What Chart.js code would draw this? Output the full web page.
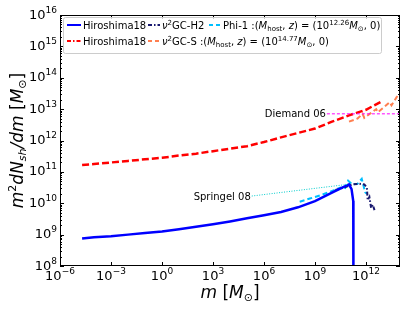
<!DOCTYPE html>
<html lang="en">
<head>
  <meta charset="UTF-8">
  <title>Subhalo mass function</title>
  <script src="https://cdn.jsdelivr.net/npm/chart.js"></script>
  <style>
    html, body { margin: 0; padding: 0; background: #fff; }
    #wrap { width: 409px; height: 309px; position: relative; }
  </style>
</head>
<body>
  <div id="wrap"><canvas id="c"></canvas></div>

  <script>
    // all values are log10
    const hiroBlueM = [-4.7, -4, -3, -2, -1, 0, 1, 2, 3, 4, 5, 6, 7, 8, 9, 10, 10.6, 11.0, 11.15, 11.25, 11.26];
    const hiroBlueY = [8.88, 8.92, 8.95, 9.0, 9.05, 9.1, 9.17, 9.25, 9.33, 9.42, 9.52, 9.62, 9.72, 9.87, 10.07, 10.34, 10.5, 10.6, 10.45, 10.07, 7];

    const hiroRedM = [-4.7, -4, -3, -2, -1, 0, 1, 2, 3, 4, 5, 6, 7, 8, 9, 10, 11, 12, 13];
    const hiroRedY = [11.22, 11.25, 11.3, 11.35, 11.4, 11.45, 11.52, 11.58, 11.66, 11.74, 11.82, 11.95, 12.1, 12.24, 12.38, 12.6, 12.8, 12.98, 13.27];

    const gcH2M = [10.2, 10.7, 11.2, 11.6, 11.9, 12.05, 12.1, 12.2, 12.3, 12.4, 12.5];
    const gcH2Y = [10.42, 10.5, 10.6, 10.62, 10.6, 10.5, 10.1, 10.2, 9.85, 9.95, 9.78];

    const gcSM = [11.0, 11.5, 11.8, 11.9, 12.3, 12.6, 12.7, 13.1, 13.4, 13.5, 13.8, 14.0];
    const gcSY = [12.6, 12.7, 12.85, 12.72, 12.88, 13.0, 12.9, 13.08, 13.22, 13.12, 13.38, 13.5];

    const phiM = [8.1, 8.7, 9.3, 9.9, 10.5, 10.75, 10.95, 11.2, 11.5, 11.75, 11.95, 12.05];
    const phiY = [10.05, 10.15, 10.25, 10.37, 10.5, 10.45, 10.72, 10.6, 10.62, 10.78, 10.35, 10.3];

    const springelM = [5.28, 10.9];
    const springelY = [10.23, 10.6];

    const diemandM = [9.7, 14];
    const diemandY = [12.85, 12.85];

    const xTickExp = [-6, -3, 0, 3, 6, 9, 12];
    const yTickExp = [8, 9, 10, 11, 12, 13, 14, 15, 16];

    const toPts = (lm, ly) => lm.map((v, i) => ({ x: Math.pow(10, v), y: Math.pow(10, ly[i]) }));

    const FONT = '"DejaVu Sans"';
    function fnt(p, base) {
      return (p.it ? 'italic ' : '') + (p.sz || base) + 'px ' + FONT;
    }
    // draws a run of text pieces (for super/subscripts)
    function rich(ctx, parts, x, y, align, base) {
      let w = 0;
      parts.forEach(p => { ctx.font = fnt(p, base); w += ctx.measureText(p.t).width; });
      let cx = align === 'right' ? x - w : align === 'center' ? x - w / 2 : x;
      ctx.textAlign = 'left';
      ctx.textBaseline = 'alphabetic';
      parts.forEach(p => {
        ctx.font = fnt(p, base);
        ctx.fillText(p.t, cx, y + (p.dy || 0));
        cx += ctx.measureText(p.t).width;
      });
      return w;
    }
    const minus = e => (e < 0 ? '\u2212' + (-e) : String(e));

    function sample(ctx, x0, x1, y, color, width, dash) {
      ctx.save();
      ctx.strokeStyle = color;
      ctx.lineWidth = width;
      ctx.setLineDash(dash);
      ctx.beginPath();
      ctx.moveTo(x0, y);
      ctx.lineTo(x1, y);
      ctx.stroke();
      ctx.restore();
    }

    const decor = {
      id: 'decor',
      afterDatasetsDraw(chart) {
        const { ctx, chartArea: a, scales: { x, y } } = chart;
        ctx.save();
        ctx.fillStyle = '#000';

        // annotation labels
        rich(ctx, [{ t: 'Diemand 06' }], x.getPixelForValue(Math.pow(10, diemandM[0])) - 1,
          y.getPixelForValue(Math.pow(10, diemandY[0])) + 3.5, 'right', 10);
        rich(ctx, [{ t: 'Springel 08' }], x.getPixelForValue(Math.pow(10, springelM[0])) - 1,
          y.getPixelForValue(Math.pow(10, springelY[0])) + 3.5, 'right', 10);

        // frame
        ctx.strokeStyle = '#000';
        ctx.lineWidth = 1;
        ctx.strokeRect(a.left + 0.5, a.top + 0.5, a.right - a.left - 1, a.bottom - a.top - 1);

        // y ticks
        ctx.beginPath();
        yTickExp.forEach(e => {
          const py = Math.round(y.getPixelForValue(Math.pow(10, e))) + 0.5;
          ctx.moveTo(a.left, py); ctx.lineTo(a.left + 4, py);
          ctx.moveTo(a.right, py); ctx.lineTo(a.right - 4, py);
          if (e < 16) {
            for (let k = 2; k < 10; k++) {
              const pm = Math.round(y.getPixelForValue(k * Math.pow(10, e))) + 0.5;
              ctx.moveTo(a.left, pm); ctx.lineTo(a.left + 2, pm);
              ctx.moveTo(a.right, pm); ctx.lineTo(a.right - 2, pm);
            }
          }
        });
        // x ticks
        xTickExp.forEach(e => {
          const px = Math.round(x.getPixelForValue(Math.pow(10, e))) + 0.5;
          ctx.moveTo(px, a.bottom); ctx.lineTo(px, a.bottom - 4);
          ctx.moveTo(px, a.top); ctx.lineTo(px, a.top + 4);
        });
        ctx.stroke();

        // tick labels
        yTickExp.forEach(e => {
          const py = y.getPixelForValue(Math.pow(10, e));
          rich(ctx, [{ t: '10' }, { t: minus(e), sz: 9, dy: -6 }], a.left - 3, py + 3.5, 'right', 13);
        });
        xTickExp.forEach(e => {
          const px = x.getPixelForValue(Math.pow(10, e));
          rich(ctx, [{ t: '10' }, { t: minus(e), sz: 9, dy: -6 }], px, a.bottom + 14, 'center', 13);
        });

        // axis titles
        rich(ctx, [{ t: 'm', it: 1 }, { t: ' [' }, { t: 'M', it: 1 }, { t: '\u2299', sz: 11, dy: 3 }, { t: ']' }],
          (a.left + a.right) / 2, 298, 'center', 17);
        ctx.save();
        ctx.translate(23, (a.top + a.bottom) / 2);
        ctx.rotate(-Math.PI / 2);
        rich(ctx, [{ t: 'm', it: 1 }, { t: '2', sz: 11, dy: -7 }, { t: 'dN', it: 1 }, { t: 'sh', it: 1, sz: 11, dy: 3 },
          { t: '/dm', it: 1 }, { t: ' [' }, { t: 'M', it: 1 }, { t: '\u2299', sz: 11, dy: 3 }, { t: ']' }],
          0, 0, 'center', 17);
        ctx.restore();

        // legend
        ctx.save();
        ctx.fillStyle = 'rgba(255,255,255,0.8)';
        ctx.strokeStyle = '#ccc';
        ctx.beginPath();
        ctx.roundRect(63.5, 17.5, 318, 36, 2);
        ctx.fill();
        ctx.stroke();
        ctx.restore();

        const r1 = 25, r2 = 41;
        sample(ctx, 67, 81, r1, '#0000ff', 2, []);
        sample(ctx, 67, 81, r2, '#ff0000', 2, [4, 2, 1.5, 2]);
        sample(ctx, 148, 160, r1, '#191970', 2, [4, 2, 1.5, 2]);
        sample(ctx, 148, 160, r2, '#ff7f50', 2, [4, 3]);
        sample(ctx, 209, 221, r1, '#00bfff', 2, [4, 3]);

        ctx.fillStyle = '#000';
        rich(ctx, [{ t: 'Hiroshima18' }], 83, r1 + 3.5, 'left', 10);
        rich(ctx, [{ t: 'Hiroshima18' }], 83, r2 + 3.5, 'left', 10);
        rich(ctx, [{ t: '\u03bd', it: 1 }, { t: '2', sz: 7, dy: -4 }, { t: 'GC-H2' }], 162, r1 + 3.5, 'left', 10);
        rich(ctx, [{ t: '\u03bd', it: 1 }, { t: '2', sz: 7, dy: -4 }, { t: 'GC-S :(' }, { t: 'M', it: 1 },
          { t: 'host', sz: 7, dy: 2 }, { t: ', ' }, { t: 'z', it: 1 }, { t: ') = (10' }, { t: '14.77', sz: 7, dy: -4 },
          { t: 'M', it: 1 }, { t: '\u2299', sz: 7, dy: 2 }, { t: ', 0)' }], 162, r2 + 3.5, 'left', 10);
        rich(ctx, [{ t: 'Phi-1 :(' }, { t: 'M', it: 1 }, { t: 'host', sz: 7, dy: 2 }, { t: ', ' }, { t: 'z', it: 1 },
          { t: ') = (10' }, { t: '12.26', sz: 7, dy: -4 }, { t: 'M', it: 1 }, { t: '\u2299', sz: 7, dy: 2 },
          { t: ', 0)' }], 223, r1 + 3.5, 'left', 10);

        ctx.restore();
      }
    };

    const line = (pts, color, width, dash) => ({
      data: pts,
      borderColor: color,
      borderWidth: width,
      borderDash: dash,
      pointRadius: 0,
      fill: false,
      tension: 0
    });

    new Chart(document.getElementById('c').getContext('2d'), {
      type: 'line',
      data: {
        datasets: [
          line(toPts(diemandM, diemandY), '#ff00ff', 1, [3, 2]),
          line(toPts(springelM, springelY), '#00cccc', 1, [1, 1.5]),
          line(toPts(hiroRedM, hiroRedY), '#ff0000', 2.5, [7, 3]),
          line(toPts(gcSM, gcSY), '#ff7f50', 2, [5, 3]),
          line(toPts(hiroBlueM, hiroBlueY), '#0000ff', 2.5, []),
          line(toPts(gcH2M, gcH2Y), '#191970', 2, [4, 2, 1.5, 2]),
          line(toPts(phiM, phiY), '#00bfff', 2, [5, 3])
        ]
      },
      options: {
        responsive: true,
        maintainAspectRatio: false,
        animation: false,
        layout: { padding: { left: 60, top: 15, right: 9, bottom: 43 } },
        plugins: { legend: { display: false }, tooltip: { enabled: false } },
        scales: {
          x: { type: 'logarithmic', min: 1e-6, max: 1e14, display: false },
          y: { type: 'logarithmic', min: 1e8, max: 1e16, display: false }
        }
      },
      plugins: [decor]
    });
  </script>
</body>
</html>
